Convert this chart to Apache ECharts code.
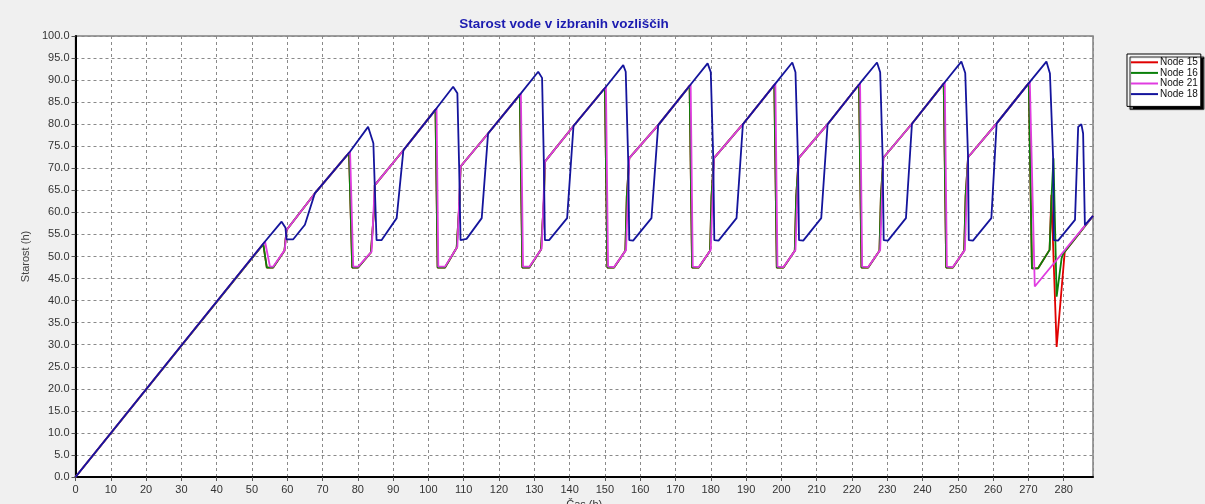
<!DOCTYPE html>
<html>
<head>
<meta charset="utf-8">
<script src="https://cdn.jsdelivr.net/npm/echarts@6/dist/echarts.min.js"></script>
<style>
html,body{margin:0;padding:0;background:#f0f0f0;overflow:hidden;}
#c{width:1205px;height:504px;}
</style>
</head>
<body>
<div id="c"></div>
<script>
const titleText = 'Starost vode v izbranih vozliščih';
const xName = 'Čas (h)';
const yName = 'Starost (h)';
const seriesNames = ['Node 15', 'Node 16', 'Node 21', 'Node 18'];

const node15 = [
[0,0],[53.2,52.8],[54.2,47.5],[56.0,47.5],[59.2,51.3],[59.8,56.0],[67.8,64.3],[77.5,73.5],
[78.4,47.5],[80.1,47.5],[83.7,50.9],[84.7,61.7],[84.8,66.2],[92.9,74.1],[102.0,83.3],
[102.6,47.5],[104.7,47.5],[108.0,52.0],[108.8,62.5],[109.1,70.4],[116.9,77.9],[125.9,86.7],
[126.6,47.5],[128.6,47.5],[131.9,51.6],[132.7,62.5],[133.0,71.5],[141.1,79.6],[150.0,88.2],
[150.7,47.5],[152.6,47.5],[155.8,51.3],[156.2,63.6],[156.9,72.3],[165.1,79.8],[174.0,88.7],
[174.7,47.5],[176.6,47.5],[179.8,51.3],[180.2,63.6],[180.9,72.3],[189.1,80.0],[198.0,88.9],
[198.7,47.5],[200.6,47.5],[203.8,51.3],[204.2,63.6],[204.9,72.3],[213.1,80.0],[222.0,89.0],
[222.7,47.5],[224.6,47.5],[227.8,51.3],[228.2,63.6],[228.9,72.4],[237.0,80.1],[246.0,89.2],
[246.7,47.5],[248.6,47.5],[251.8,51.3],[252.2,63.6],[252.9,72.5],[261.0,80.2],[270.1,89.3],
[271.0,47.3],[272.7,47.3],[276.0,51.5],[276.5,64.0],[278.0,29.5],[280.3,51.1],[288.3,59.2]
];

const node16 = [
[0,0],[53.2,52.8],[54.2,47.5],[56.0,47.5],[59.2,51.3],[59.8,56.0],[67.8,64.3],[77.5,73.5],
[78.4,47.5],[80.1,47.5],[83.7,50.9],[84.7,61.7],[84.8,66.2],[92.9,74.1],[102.0,83.3],
[102.6,47.5],[104.7,47.5],[108.0,52.0],[108.8,62.5],[109.1,70.4],[116.9,77.9],[125.9,86.7],
[126.6,47.5],[128.6,47.5],[131.9,51.6],[132.7,62.5],[133.0,71.5],[141.1,79.6],[150.0,88.2],
[150.7,47.5],[152.6,47.5],[155.8,51.3],[156.2,63.6],[156.9,72.3],[165.1,79.8],[174.0,88.7],
[174.7,47.5],[176.6,47.5],[179.8,51.3],[180.2,63.6],[180.9,72.3],[189.1,80.0],[198.0,88.9],
[198.7,47.5],[200.6,47.5],[203.8,51.3],[204.2,63.6],[204.9,72.3],[213.1,80.0],[222.0,89.0],
[222.7,47.5],[224.6,47.5],[227.8,51.3],[228.2,63.6],[228.9,72.4],[237.0,80.1],[246.0,89.2],
[246.7,47.5],[248.6,47.5],[251.8,51.3],[252.2,63.6],[252.9,72.5],[261.0,80.2],[270.1,89.3],
[271.0,47.3],[272.7,47.3],[276.0,51.5],[276.6,64.3],[277.1,72.3],[278.0,40.9],[279.4,49.6],[279.9,50.7],[288.3,59.2]
];

const node21 = [
[0,0],[53.7,53.4],[55.1,47.7],[56.0,47.7],[59.3,51.5],[59.8,56.0],[67.8,64.3],[77.8,73.8],
[78.7,47.7],[80.1,47.7],[83.9,51.1],[84.8,66.2],[92.9,74.1],[102.3,83.6],
[102.8,47.7],[104.7,47.7],[108.2,52.2],[109.1,70.4],[116.9,77.9],[126.2,87.0],
[126.8,47.7],[128.6,47.7],[132.1,51.8],[133.0,71.5],[141.1,79.6],[150.3,88.5],
[150.9,47.7],[152.6,47.6],[156.0,51.5],[156.9,72.3],[165.1,79.8],[174.3,89.0],
[174.9,47.7],[176.6,47.6],[180.0,51.5],[180.9,72.3],[189.1,80.0],[198.3,89.2],
[198.9,47.7],[200.6,47.6],[204.0,51.5],[204.9,72.3],[213.1,80.0],[222.3,89.3],
[222.9,47.7],[224.6,47.6],[228.0,51.5],[228.9,72.4],[237.0,80.1],[246.3,89.5],
[246.9,47.7],[248.6,47.6],[252.0,51.5],[252.9,72.5],[261.0,80.2],[270.4,89.6],
[271.8,43.2],[288.3,59.2]
];

const node18 = [
[0,0],[53.7,53.4],[58.4,57.9],[59.5,56.5],[59.8,53.9],[61.7,53.9],[65.0,57.2],[67.8,64.3],
[77.8,73.8],[82.9,79.4],[84.4,75.7],[84.8,65.8],[85.3,53.7],[86.7,53.7],[91.0,58.7],[92.9,74.1],
[102.3,83.6],[107.0,88.5],[108.2,87.0],[108.7,70.4],[109.1,53.7],[110.8,54.0],[115.1,58.7],[116.9,77.9],
[126.2,87.0],[131.1,91.9],[132.2,90.5],[132.7,71.5],[133.0,53.7],[134.2,53.7],[139.3,58.7],[141.1,79.6],
[150.3,88.5],[155.2,93.4],[155.9,91.9],[156.6,71.9],[156.9,53.7],[158.0,53.6],[163.2,58.7],[165.1,79.8],
[174.3,89.0],[179.1,93.8],[180.0,91.8],[180.7,72.3],[181.0,53.7],[182.2,53.6],[187.3,58.7],[189.1,80.0],
[198.3,89.2],[203.1,94.0],[204.0,91.8],[204.7,72.3],[205.0,53.7],[206.2,53.6],[211.3,58.7],[213.1,80.0],
[222.3,89.3],[227.1,94.0],[228.0,91.8],[228.7,72.3],[229.0,53.7],[230.2,53.6],[235.3,58.7],[237.0,80.1],
[246.3,89.5],[251.0,94.2],[252.1,91.6],[252.9,72.5],[253.1,53.7],[254.3,53.6],[259.5,58.7],[261.0,80.2],
[270.4,89.6],[275.1,94.2],[276.1,91.5],[277.0,72.3],[277.2,53.7],[278.4,53.6],[283.2,58.3],[284.1,79.4],
[285.0,80.0],[285.5,77.9],[286.0,57.1],[288.3,59.2]
];

const colors = ['#e00000', '#0a800a', '#e03ce0', '#14149c'];
const dataSets = [node15, node16, node21, node18];

const chart = echarts.init(document.getElementById('c'), null, {renderer: 'canvas'});
const FONT = 'Liberation Sans, Arial, sans-serif';

chart.setOption({
  animation: false,
  backgroundColor: '#f0f0f0',
  textStyle: {fontFamily: FONT},
  title: {
    text: titleText,
    left: 559, top: 12,
    textAlign: 'center',
    textStyle: {color: '#1c1cb0', fontSize: 13.5, fontWeight: 'bold', fontFamily: FONT}
  },
  legend: {
    orient: 'vertical',
    left: 1127, top: 54,
    data: seriesNames,
    icon: 'rect',
    itemWidth: 27, itemHeight: 2,
    itemGap: 0,
    padding: [3, 3, 7, 4],
    backgroundColor: '#ffffff',
    borderColor: '#000', borderWidth: 1,
    shadowColor: 'rgba(0,0,0,1)', shadowOffsetX: 3, shadowOffsetY: 3, shadowBlur: 1,
    textStyle: {fontSize: 10, lineHeight: 10.6, color: '#111', fontFamily: FONT, padding: [0,0,0,-3]}
  },
  grid: {
    left: 75.5, right: 112, top: 36, bottom: 27,
    outerBoundsMode: 'none',
    show: true, backgroundColor: '#ffffff', borderColor: '#808080', borderWidth: 1.5,
    containLabel: false
  },
  xAxis: {
    type: 'value', min: 0, max: 288.3, interval: 10,
    name: xName, nameLocation: 'middle', nameGap: 19,
    nameTextStyle: {fontSize: 11, color: '#333', fontFamily: FONT},
    axisLine: {show: true, lineStyle: {color: '#000', width: 2}},
    axisTick: {show: true, length: 4, lineStyle: {color: '#555'}},
    axisLabel: {fontSize: 11, color: '#333', margin: 7, fontFamily: FONT,
      formatter: function (v) { return v > 285 ? '' : String(v); }, showMaxLabel: false},
    splitLine: {show: true, lineStyle: {color: '#8a8a8a', type: [3, 3], width: 1}}
  },
  yAxis: {
    type: 'value', min: 0, max: 100, interval: 5,
    name: yName, nameLocation: 'middle', nameGap: 40, nameRotate: 90,
    nameTextStyle: {fontSize: 11, color: '#444', fontFamily: FONT},
    axisLine: {show: true, lineStyle: {color: '#000', width: 2}},
    axisTick: {show: true, length: 4, lineStyle: {color: '#555'}},
    axisLabel: {fontSize: 11, color: '#333', margin: 6, fontFamily: FONT,
      formatter: function (v) { return v.toFixed(1); }},
    splitLine: {show: true, lineStyle: {color: '#8a8a8a', type: [3, 3], width: 1}}
  },
  series: seriesNames.map(function (n, i) {
    return {
      name: n, type: 'line', data: dataSets[i], symbol: 'none',
      color: colors[i],
      lineStyle: {color: colors[i], width: 1.8},
      z: 2 + i
    };
  })
});
</script>
</body>
</html>
